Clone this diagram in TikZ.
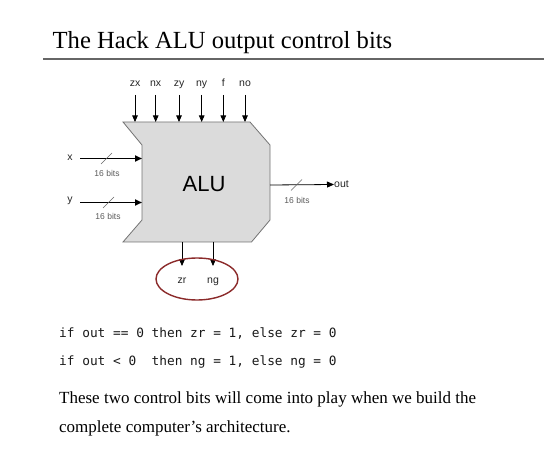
\documentclass[tikz,border=0pt]{standalone}
\usepackage{fontspec}
\setmainfont{Liberation Serif}
\setsansfont{Liberation Sans}
\setmonofont{DejaVu Sans Mono}
\usetikzlibrary{arrows.meta,shapes.geometric}
\definecolor{ringred}{HTML}{8B2A2A}
\begin{document}
\begin{tikzpicture}[x=1pt,y=-1pt,
  sig/.style={-{Triangle[length=6.5pt,width=5.5pt]}, line width=0.8pt},
  sigb/.style={-{Triangle[length=7pt,width=6pt]}, line width=1.6pt},
  lbl/.style={font=\sffamily\fontsize{10.5}{12}\selectfont, text=black!85, inner sep=0pt},
  bits/.style={font=\sffamily\fontsize{8.5}{10}\selectfont, text=black!65, inner sep=0pt},
  slash/.style={draw=black!60, line width=0.5pt},
  code/.style={font=\ttfamily\fontsize{12.8}{14}\selectfont, text=black!90, inner sep=0pt, anchor=base west},
  para/.style={font=\fontsize{17}{19}\selectfont, inner sep=0pt, anchor=base west}]
\useasboundingbox (0,0) rectangle (544,462);
% title
\node[anchor=base west, font=\fontsize{24.6}{28}\selectfont, inner sep=0pt] (title) at (52.5,48.5) {The Hack ALU output control bits};
\coordinate (ruleL) at (43,59);
\coordinate (ruleR) at (544,59);
\draw[black!60, line width=1.5pt] (ruleL) -- (ruleR);
% ALU body
\draw[draw=black!55, fill=black!14, line width=0.8pt]
  (123,122) -- (250,122) -- (270,145) -- (270,220) -- (251.5,242) -- (123,242) -- (142,220) -- (142,145) -- cycle;
\node[font=\sffamily\fontsize{22}{24}\selectfont, inner sep=0pt] (alu) at (204,184) {ALU};
% control inputs
\foreach \nm/\xx in {zx/135, nx/155.7, zy/179, ny/201.7, f/223.3, no/245}{
  \node[lbl, anchor=base] (\nm) at (\xx,87) {\nm};
  \coordinate (\nm e) at (\xx,122);
  \draw[sig] (\nm.base) ++(0,8) -- (\nm e);
}
% x input
\node[lbl] (xl) at (70,157.5) {x};
\coordinate (xe) at (142,158.5);
\coordinate (xs) at (80,158.5);
\draw[sigb] (xs) -- (xe);
\coordinate (xsl1) at (101,164); \coordinate (xsl2) at (112,153);
\draw[slash] (xsl1) -- (xsl2);
\node[bits] (xb) at (107,173) {16 bits};
% y input
\node[lbl] (yl) at (70,201) {y};
\coordinate (ye) at (142,202.5);
\coordinate (ys) at (80,202.5);
\draw[sigb] (ys) -- (ye);
\coordinate (ysl1) at (103,208); \coordinate (ysl2) at (114,197);
\draw[slash] (ysl1) -- (ysl2);
\node[bits] (yb) at (108,216) {16 bits};
% out
\coordinate (os) at (270,185);
\node[lbl, anchor=west] (outl) at (334,184.5) {out};
\draw[sig, -{Triangle[length=7pt,width=6pt]}] (os) -- (outl.west);
\coordinate (osl1) at (291,190.5); \coordinate (osl2) at (302,179.5);
\draw[slash] (osl1) -- (osl2);
\node[bits] (ob) at (297,200) {16 bits};
% outputs zr, ng
\node[lbl, anchor=base] (zr) at (182,284) {zr};
\node[lbl, anchor=base] (ng) at (213,284) {ng};
\coordinate (zrs) at (182,242); \coordinate (ngs) at (213,242);
\draw[sig] (zrs) -- ++(0,24);
\draw[sig] (ngs) -- ++(0,24);
\node[draw=ringred, line width=1.4pt, ellipse, minimum width=82pt, minimum height=42pt, inner sep=0pt] (ring) at (197,279) {};
% code
\node[code] (c1) at (59,337.5) {if out == 0 then zr = 1, else zr = 0};
\node[code] (c2) at (59,366) {if out < 0\ \ then ng = 1, else ng = 0};
% paragraph
\node[para] (p1) at (59,404) {These two control bits will come into play when we build the};
\node[para] (p2) at (59,432) {complete computer’s architecture.};
\end{tikzpicture}
\end{document}
